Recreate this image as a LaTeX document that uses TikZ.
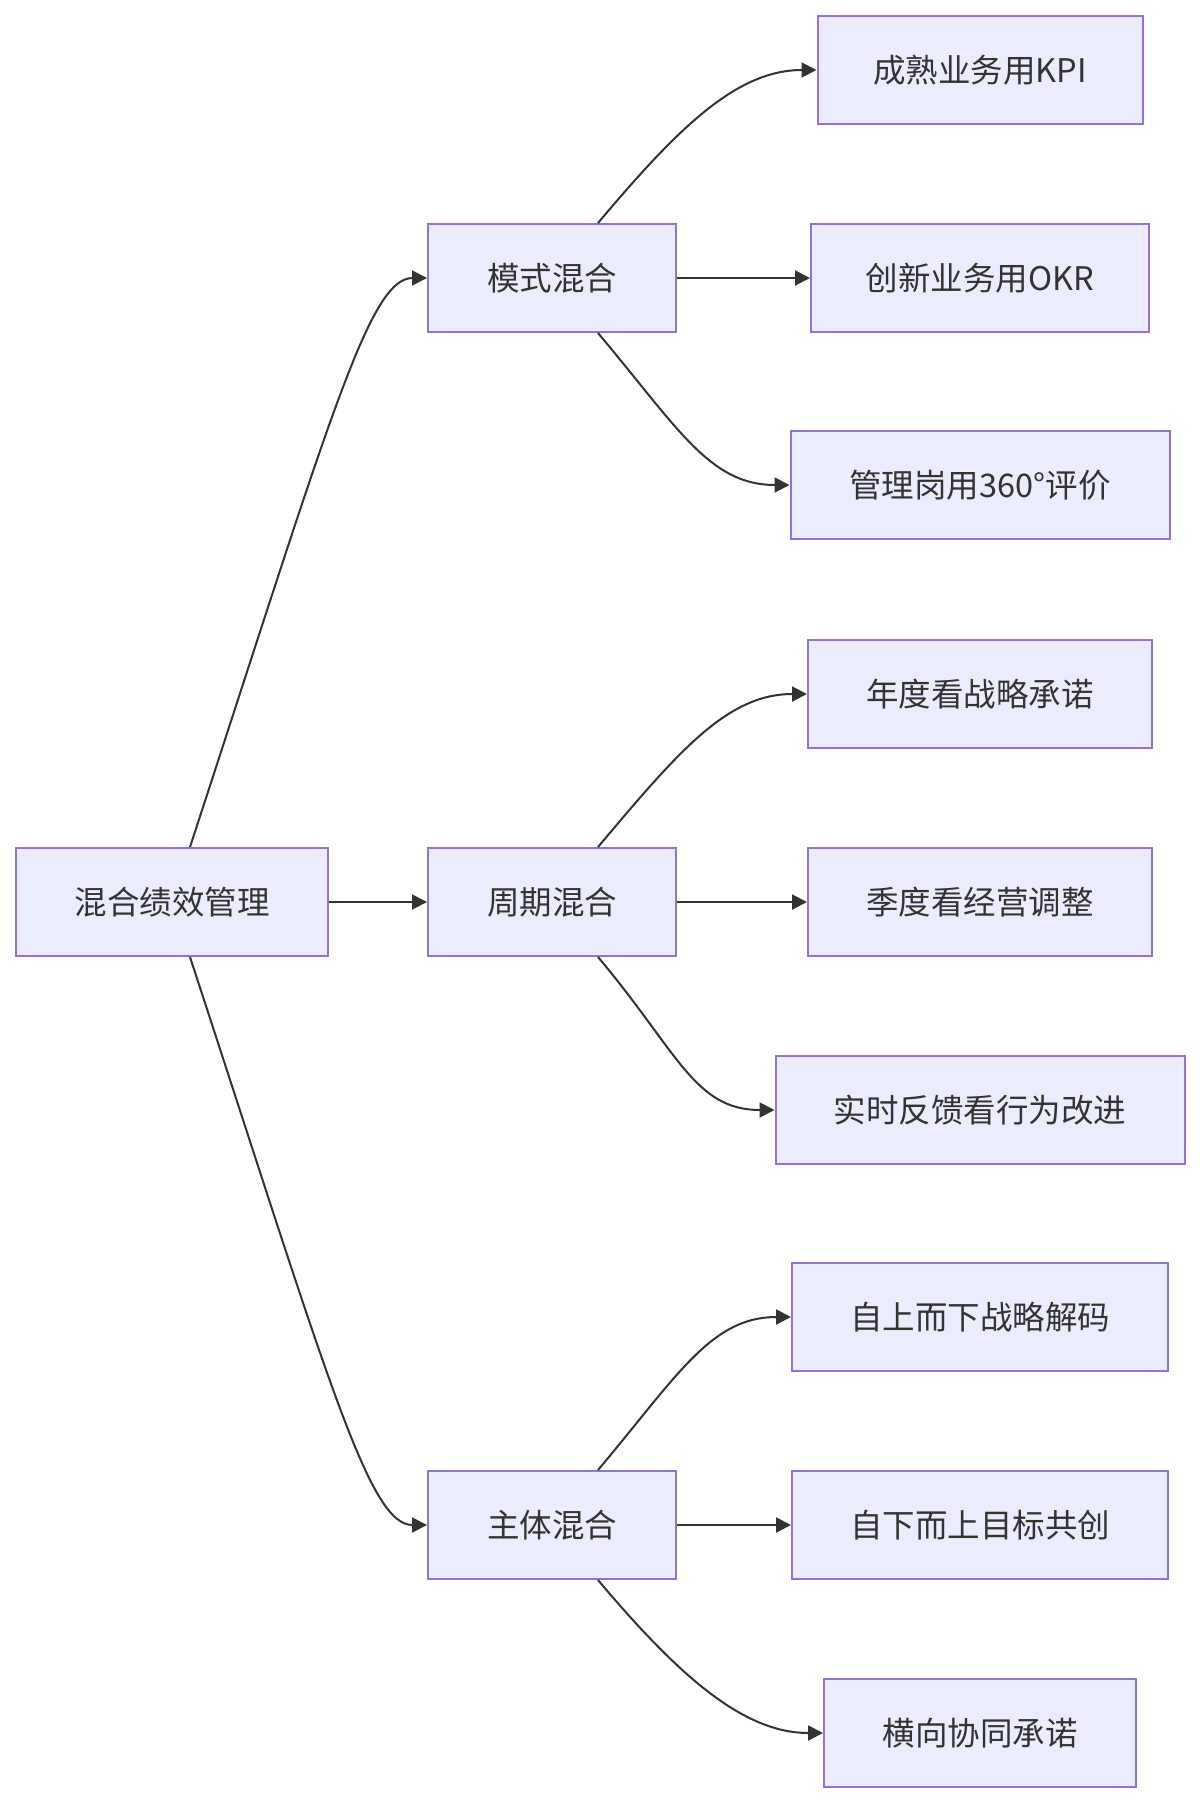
\documentclass[tikz,border=0pt]{standalone}
\usepackage{fontspec}
\setmainfont{Noto Sans CJK SC}
\usetikzlibrary{arrows.meta}
\definecolor{nodefill}{HTML}{ECECFF}
\definecolor{nodeborder}{HTML}{9370DB}
\definecolor{ink}{HTML}{333333}
\tikzset{
  box/.style={draw=nodeborder, fill=nodefill, line width=2pt, text=ink,
    minimum height=108pt, inner sep=0pt,
    font=\fontsize{32.5}{38}\selectfont},
  edge/.style={draw=ink, line width=2pt, -{Triangle[length=15pt,width=15pt]}}
}
\begin{document}
\begin{tikzpicture}[x=1pt,y=-1pt]
\useasboundingbox (0,0) rectangle (1200,1804);
% root
\node[box, minimum width=312pt] (root) at (172,902) {混合绩效管理};
% middle
\node[box, minimum width=248pt] (m1) at (552,278) {模式混合};
\node[box, minimum width=248pt] (m2) at (552,902) {周期混合};
\node[box, minimum width=248pt] (m3) at (552,1525) {主体混合};
% leaves
\node[box, minimum width=325pt] (a1) at (980,70) {成熟业务用KPI};
\node[box, minimum width=338pt] (a2) at (980,278) {创新业务用OKR};
\node[box, minimum width=379pt] (a3) at (980,485) {管理岗用360°评价};
\node[box, minimum width=344pt] (b1) at (980,694) {年度看战略承诺};
\node[box, minimum width=344pt] (b2) at (980,902) {季度看经营调整};
\node[box, minimum width=409pt] (b3) at (980,1110) {实时反馈看行为改进};
\node[box, minimum width=376pt] (c1) at (980,1317) {自上而下战略解码};
\node[box, minimum width=376pt] (c2) at (980,1525) {自下而上目标共创};
\node[box, minimum width=312pt] (c3) at (980,1733) {横向协同承诺};
% root edges
\draw[edge] ([xshift=18pt]root.north) .. controls +(140,-428) and +(-58,0) .. (m1.west);
\draw[edge] (root.east) -- (m2.west);
\draw[edge] ([xshift=18pt]root.south) .. controls +(140,428) and +(-58,0) .. (m3.west);
% mid edges
\foreach \m/\u/\s/\d in {m1/a1/a2/a3, m2/b1/b2/b3, m3/c1/c2/c3}{
  \draw[edge] ([xshift=46pt]\m.north) .. controls +(80,-95) and +(-80,0) .. (\u.west);
  \draw[edge] (\m.east) -- (\s.west);
  \draw[edge] ([xshift=46pt]\m.south) .. controls +(80,95) and +(-80,0) .. (\d.west);
}
\end{tikzpicture}
\end{document}
